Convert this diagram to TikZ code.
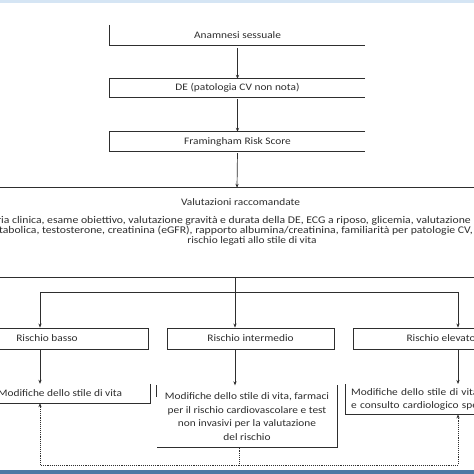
\documentclass[tikz,border=0pt]{standalone}
\usepackage{fontspec}
\setmainfont{Carlito}[FakeStretch=1.14]
\usetikzlibrary{arrows.meta}
\definecolor{ink}{HTML}{2E2E2E}
\definecolor{topband}{HTML}{D5E5F4}
\definecolor{botband}{HTML}{4E78A4}
\begin{document}
\begin{tikzpicture}[x=1bp,y=-1bp,
  every node/.style={font=\fontsize{10}{12}\selectfont, text=ink},
  lbl/.style={inner sep=0pt},
  widelbl/.style={inner sep=0pt, font=\fontsize{10.3}{10}\selectfont},
  boxshape/.style={draw=none, inner sep=0pt},
  framebox/.style={draw=ink, line width=0.9bp, inner sep=0pt},
  edge/.style={draw=ink, line width=0.9bp},
  conn/.style={draw=ink, line width=0.7bp},
  tip/.style={-{Stealth[length=4bp,width=3.2bp]}},
  arr/.style={conn, tip},
  fbline/.style={draw=ink, line width=0.9bp, densely dotted},
]
\useasboundingbox (0,0) rectangle (474,474);
\fill[white] (0,0) rectangle (474,474);
\fill[topband] (0,0) rectangle (474,3);
\fill[botband] (0,470) rectangle (474,474);

% level 1-3
\node[boxshape, minimum width=255bp, minimum height=20bp] (b1) at (237.5,35) {Anamnesi sessuale};
\node[boxshape, minimum width=255bp, minimum height=18bp] (b2) at (237.5,88) {DE (patologia CV non nota)};
\node[boxshape, minimum width=255bp, minimum height=19bp] (b3) at (237.5,141.5) {Framingham Risk Score};
% level 4
\node[boxshape, minimum width=520bp, minimum height=89bp] (b4) at (237,232.5) {};
\node[lbl] (v0) at (240.5,202) {Valutazioni raccomandate};
\node[widelbl, anchor=east] (v1) at (471,221) {Storia clinica, esame obiettivo, valutazione gravità e durata della DE, ECG a riposo, glicemia, valutazione};
\node[widelbl, anchor=east] (v2) at (473,231) {metabolica, testosterone, creatinina (eGFR), rapporto albumina/creatinina, familiarità per patologie CV,};
\node[lbl] (v3) at (252,240.5) {rischio legati allo stile di vita};
% level 6
\node[framebox, minimum width=202bp, minimum height=21bp] (b6l) at (47,338.5) {Rischio basso};
\node[framebox, minimum width=167bp, minimum height=21bp] (b6m) at (250.5,338.5) {Rischio intermedio};
\node[framebox, minimum width=176bp, minimum height=21bp] (b6r) at (441,338.5) {Rischio elevato};
% level 7
\node[boxshape, minimum width=180bp, minimum height=19bp] (b7l) at (60,393.5) {Modifiche dello stile di vita};
\node[boxshape, minimum width=180bp, minimum height=62bp, align=center, font=\fontsize{10}{13.5}\selectfont] (b7m) at (247,416.5) {Modifiche dello stile di vita, farmaci\\per il rischio cardiovascolare e test\\non invasivi per la valutazione\\del rischio};
\node[boxshape, anchor=north west, minimum height=30bp, text width=200bp, align=left, inner xsep=6bp, font=\fontsize{10}{13}\selectfont] (b7r) at (345,384) {Modifiche dello stile di vita\\e consulto cardiologico specialistico};

% box edges
\draw[edge] (b1.north west) -- (b1.south west) -- (b1.south east);
\draw[edge] (b2.north east) -- (b2.north west) -- (b2.south west) -- (b2.south east);
\draw[edge] (b3.north east) -- (b3.north west) -- (b3.south west) -- (b3.south east);
\draw[edge] (b4.north west) -- (b4.north east);
\draw[edge] (b4.south west) -- (b4.south east);
\draw[edge] (b7l.north east) -- (b7l.south east) -- (b7l.south west);
\draw[edge] (b7m.north west) -- ([yshift=-12bp]b7m.north west);
\draw[edge] (b7m.north east) -- (b7m.south east) -- (b7m.south west);
\draw[edge] (b7r.north west) -- (b7r.south west) -- (b7r.south east);

% connectors
\coordinate (xm) at (235,0);
\coordinate (jl) at (40,292);
\coordinate (jr) at (458,292);
\draw[arr, shorten <=3bp] (b1.south) -- (b2.north);
\draw[arr, shorten <=2bp] (b2.south) -- (b3.north);
\draw[arr, shorten <=2bp] (b3.south) -- (b4.north);
\draw[conn] (jl) -- (jr);
\draw[arr] (b4.south -| xm) -- (b6m.north -| xm);
\draw[arr] (jl) -- (b6l.north -| jl);
\draw[arr] (jr) -- (b6r.north -| jr);
\draw[arr] (b6l.south -| jl) -- (b7l.north -| jl);
\draw[arr] (b6m.south -| xm) -- (b7m.north -| xm);
\draw[arr] (b6r.south -| jr) -- (b7r.north -| jr);

% feedback (dotted)
\coordinate (fb) at (239,465);
\draw[fbline] (b7m.south -| fb) -- (fb);
\draw[fbline, tip] (fb) -| (b7l.south -| jl);
\draw[fbline, tip] (fb) -| (b7r.south -| jr);
\end{tikzpicture}
\end{document}
